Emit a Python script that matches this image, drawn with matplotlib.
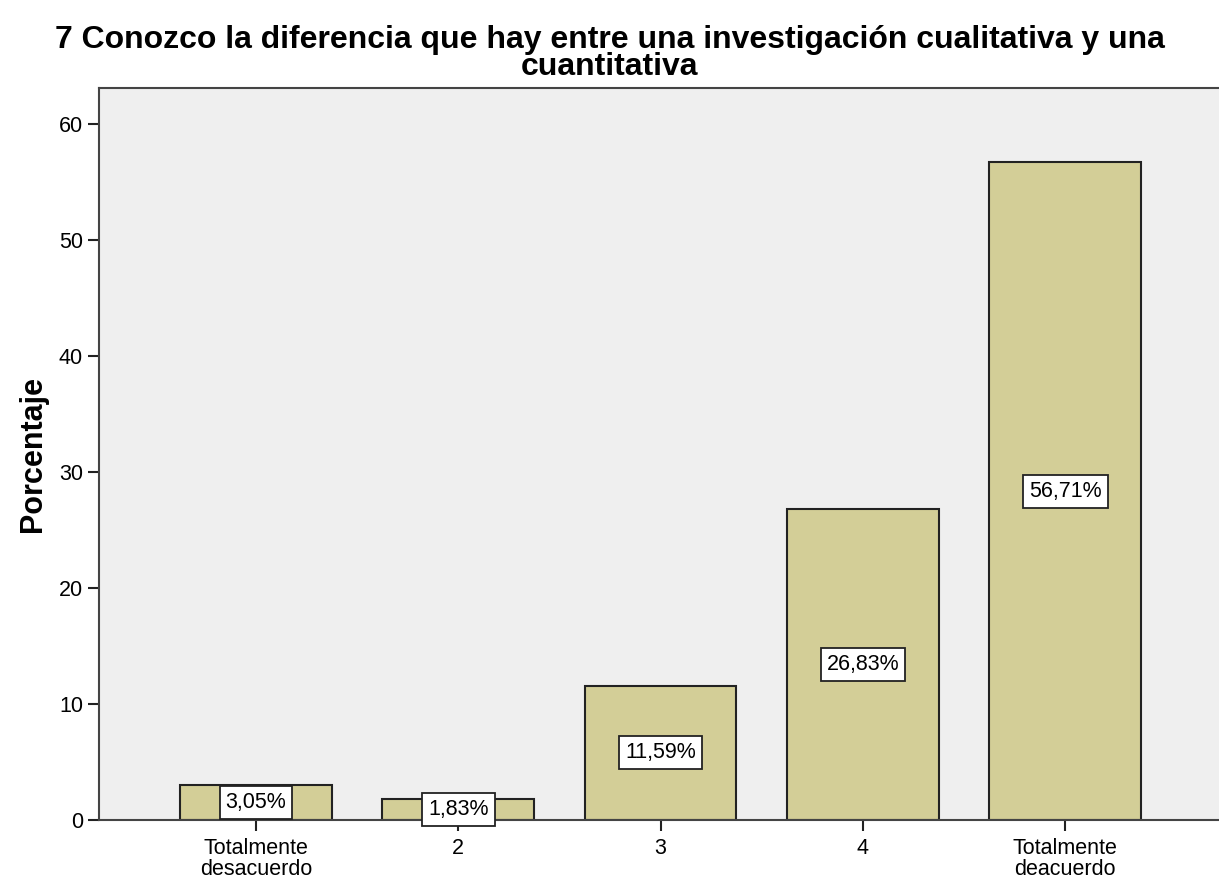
import matplotlib
matplotlib.use('Agg')
import matplotlib.pyplot as plt

plt.rcParams['font.family'] = ['Liberation Sans', 'DejaVu Sans']

categories = ['Totalmente\ndesacuerdo', '2', '3', '4', 'Totalmente\ndeacuerdo']
percentages = [3.05, 1.83, 11.59, 26.83, 56.71]
value_labels = ['3,05%', '1,83%', '11,59%', '26,83%', '56,71%']

fig = plt.figure(figsize=(12.19, 8.8), dpi=100)
ax = fig.add_axes([0.0812, 0.0682, 0.9188, 0.8318])
ax.set_facecolor('#efefef')

x = list(range(len(categories)))
ax.bar(x, percentages, width=0.75, color='#d3ce97', edgecolor='#222222', linewidth=1.5, zorder=2)

for xi, val, lab in zip(x, percentages, value_labels):
    ax.text(xi, val / 2, lab, ha='center', va='center', fontsize=15.5, zorder=3,
            bbox=dict(boxstyle='square,pad=0.28', facecolor='white', edgecolor='#222222', linewidth=1.3))

ax.set_xlim(-0.776, 4.76)
ax.set_ylim(0, 63.1)
ax.set_yticks([0, 10, 20, 30, 40, 50, 60])
ax.set_xticks(x)
ax.set_xticklabels(categories, fontsize=15.5, linespacing=1.0)
ax.tick_params(axis='y', labelsize=15.5, length=8, width=1.5, colors='#222222')
ax.tick_params(axis='x', length=8, width=1.5, colors='#222222', pad=5)
for lbl in ax.get_xticklabels() + ax.get_yticklabels():
    lbl.set_color('black')

for side in ['left', 'top', 'bottom']:
    ax.spines[side].set_linewidth(1.5)
    ax.spines[side].set_color('#444444')
ax.spines['right'].set_visible(False)

ax.set_ylabel('Porcentaje', fontsize=22, fontweight='bold', labelpad=8)
fig.suptitle('7 Conozco la diferencia que hay entre una investigación cualitativa y una\ncuantitativa',
             fontsize=23, fontweight='bold', y=1 - 25 / 880, va='top', linespacing=0.85)

fig.savefig('out.png', dpi=100)
